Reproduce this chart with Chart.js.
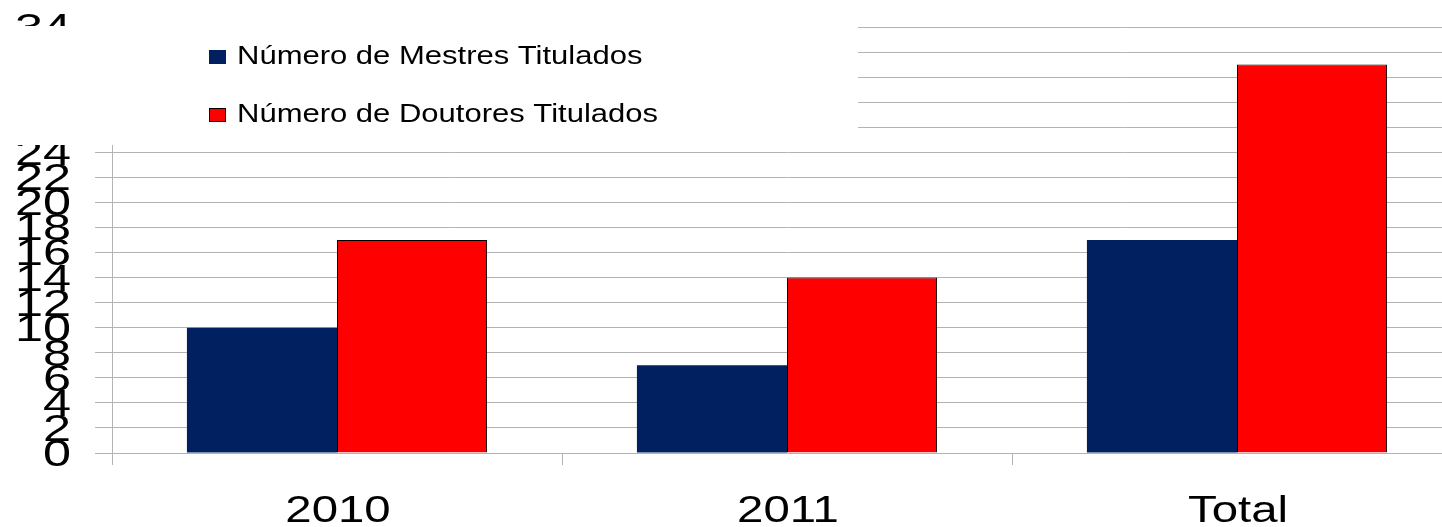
<!DOCTYPE html>
<html>
	<head>
		<meta charset="utf-8">
		<script src="https://cdn.jsdelivr.net/npm/chart.js@4/dist/chart.umd.min.js"></script>
		<title>Titulados</title>
		<style>
			body { margin: 0; overflow: hidden; background: #ffffff; }
			#canvas_container { width: 1462px; height: 527px; }
		</style>
	</head>
	<body>
		<div id="canvas_container"><canvas id="myChart"></canvas></div>
		<script>
			var categories = ['2010', '2011', 'Total'];
			var mestres = [10, 7, 17];
			var doutores = [17, 14, 31];
			var seriesNames = ['Número de Mestres Titulados', 'Número de Doutores Titulados'];
			var yTicks = [0, 2, 4, 6, 8, 10, 12, 14, 16, 18, 20, 22, 24, 26, 28, 30, 32, 34];

			var fontName = '"Liberation Sans", Arial, sans-serif';

			// text in this chart is wide, so it is drawn by hand with a horizontal stretch
			function wideText(ctx, text, x, y, size, stretch, align, base) {
				ctx.save();
				ctx.translate(x, y);
				ctx.scale(stretch, 1);
				ctx.font = size + 'px ' + fontName;
				ctx.fillStyle = '#000000';
				ctx.textAlign = align;
				ctx.textBaseline = base;
				ctx.fillText(text, 0, 0);
				ctx.restore();
			}

			var labelsAndLegend = {
				id: 'labelsAndLegend',
				afterDraw: function (chart) {
					var ctx = chart.ctx;
					var xs = chart.scales.x;
					var ys = chart.scales.y;
					var i;

					for (i = 0; i < yTicks.length; i++) {
						wideText(ctx, String(yTicks[i]), 71, ys.getPixelForValue(yTicks[i]) + 3, 36, 1.4, 'right', 'middle');
					}
					for (i = 0; i < categories.length; i++) {
						wideText(ctx, categories[i], xs.getPixelForValue(i) + 1, 522, 37, 1.28, 'center', 'alphabetic');
					}

					// legend sits on a white box over the upper left of the plot
					ctx.fillStyle = '#ffffff';
					ctx.fillRect(0, 26, 858, 119);

					var ds = chart.data.datasets;
					var rows = [64, 122];
					for (i = 0; i < ds.length; i++) {
						ctx.fillStyle = ds[i].backgroundColor;
						ctx.fillRect(209, rows[i] - 14, 17, 14);
						if (ds[i].borderWidth) {
							ctx.strokeStyle = '#000000';
							ctx.lineWidth = 1;
							ctx.strokeRect(209.5, rows[i] - 13.5, 16, 13);
						}
						wideText(ctx, seriesNames[i], 237, rows[i], 25, 1.24, 'left', 'alphabetic');
					}
				}
			};

			var chart = new Chart(document.getElementById('myChart'), {
				type: 'bar',
				data: {
					labels: categories,
					datasets: [{
						label: seriesNames[0],
						data: mestres,
						backgroundColor: '#002060',
						borderWidth: 0
					}, {
						label: seriesNames[1],
						data: doutores,
						backgroundColor: '#ff0000',
						borderColor: '#000000',
						borderWidth: 1
					}]
				},
				options: {
					responsive: true,
					maintainAspectRatio: false,
					animation: { duration: 0 },
					layout: { padding: { top: 27, left: 0, right: 0, bottom: 0 } },
					plugins: {
						legend: { display: false },
						tooltip: { enabled: false }
					},
					datasets: {
						bar: {
							categoryPercentage: 0.667,
							barPercentage: 1
						}
					},
					scales: {
						x: {
							offset: true,
							grid: {
								offset: true,
								drawOnChartArea: false,
								color: '#b3b3b3',
								tickLength: 12
							},
							border: { display: false },
							ticks: { display: false },
							afterFit: function (scale) { scale.height = 74; }
						},
						y: {
							min: 0,
							max: 34,
							grid: {
								color: '#b3b3b3',
								tickLength: 17
							},
							border: { color: '#b3b3b3' },
							ticks: { display: false, stepSize: 2 },
							afterFit: function (scale) { scale.width = 112; }
						}
					}
				},
				plugins: [labelsAndLegend]
			});
		</script>
	</body>
</html>
